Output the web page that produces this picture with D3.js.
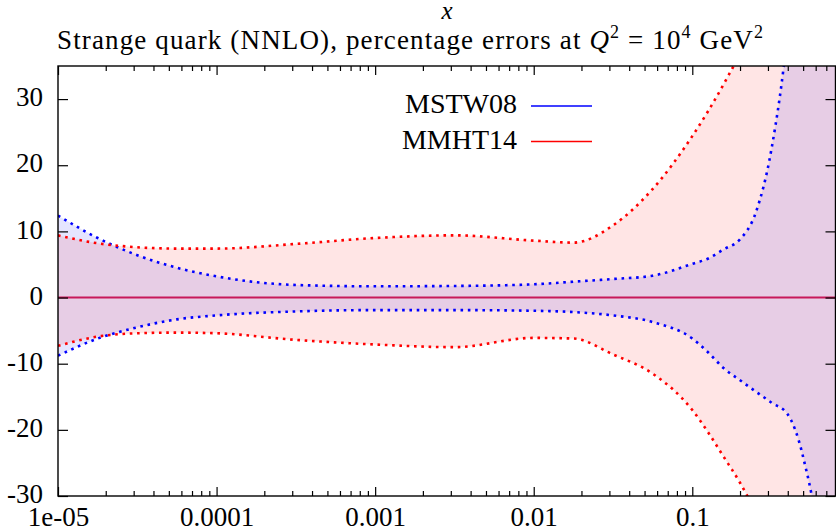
<!DOCTYPE html>
<html>
<head>
<meta charset="utf-8">
<script src="https://cdn.jsdelivr.net/npm/d3@7"></script>
<style>
  body { margin: 0; background: #fff; }
  text { font-family: "Liberation Serif", "Times New Roman", serif; fill: #000; }
</style>
</head>
<body>
<script>
// x grid shared by both PDF sets
var xValues = [1e-5, 1.78e-5, 3.16e-5, 5.62e-5, 1e-4, 3.16e-4, 1e-3, 3.16e-3,
               0.01, 0.0178, 0.0316, 0.0562, 0.1, 0.126, 0.158, 0.2,
               0.251, 0.316, 0.398, 0.501, 0.631, 0.794];

// MSTW08 percentage error band
var mstwUp   = [12.4, 9.0, 6.4, 4.5, 3.2, 1.9, 1.7, 1.75, 2.0, 2.4, 2.8, 3.3,
                5.1, 5.9, 7.3, 8.8, 12.8, 22.5, 40, 70, 110, 160];
var mstwDown = [-8.8, -6.2, -4.5, -3.3, -2.7, -2.1, -1.9, -1.9, -2.0, -2.2, -2.7, -3.7,
                -6.2, -8.3, -10.7, -12.5, -14.2, -15.9, -17.6, -24.2, -38, -70];

// MMHT14 percentage error band
var mmhtUp   = [9.4, 8.2, 7.6, 7.4, 7.4, 8.1, 9.0, 9.4, 8.6, 8.3, 10.9, 16.4,
                24.4, 28.2, 32.3, 37, 43, 50, 58, 68, 80, 95];
var mmhtDown = [-7.3, -5.9, -5.4, -5.3, -5.4, -6.4, -7.1, -7.5, -6.1, -6.2, -8.6, -11.5,
                -17.0, -20.4, -24.1, -28, -32.5, -38, -45, -53, -62, -72];

var xTicksMajor = [1e-5, 1e-4, 1e-3, 1e-2, 1e-1];
var xTickLabels = ["1e-05", "0.0001", "0.001", "0.01", "0.1"];
var yTicks = [-30, -20, -10, 0, 10, 20, 30];

var sets = [
  { name: "MSTW08", up: mstwUp, down: mstwDown, color: "#0000ff", fill: "rgba(0,0,255,0.1)" },
  { name: "MMHT14", up: mmhtUp, down: mmhtDown, color: "#ff0000", fill: "rgba(255,0,0,0.1)" }
];

// plot frame
var pLeft = 58, pRight = 835.5, pTop = 66, pBottom = 496;

var canvas = d3.select("body")
               .append("svg")
               .attr("width", 836)
               .attr("height", 531);

var x = d3.scaleLog().domain([1e-5, 0.8]).range([pLeft, pRight]);
var y = d3.scaleLinear().domain([-30, 35]).range([pBottom, pTop]);

canvas.append("clipPath")
      .attr("id", "plotclip")
      .append("rect")
      .attr("x", pLeft).attr("y", pTop)
      .attr("width", pRight - pLeft).attr("height", pBottom - pTop);

var plot = canvas.append("g").attr("clip-path", "url(#plotclip)");

var band = d3.area()
             .x(function(d) { return x(d.x); })
             .y0(function(d) { return y(d.lo); })
             .y1(function(d) { return y(d.hi); })
             .curve(d3.curveMonotoneX);

var edge = d3.line()
             .x(function(d) { return x(d.x); })
             .y(function(d) { return y(d.v); })
             .curve(d3.curveMonotoneX);

// shaded bands first, edges drawn over them
sets.forEach(function(s) {
  var pts = xValues.map(function(xv, i) { return { x: xv, lo: s.down[i], hi: s.up[i] }; });
  plot.append("path")
      .attr("d", band(pts))
      .attr("fill", s.fill);
});

sets.forEach(function(s) {
  [s.up, s.down].forEach(function(vals) {
    plot.append("path")
        .attr("d", edge(xValues.map(function(xv, i) { return { x: xv, v: vals[i] }; })))
        .attr("fill", "none")
        .attr("stroke", s.color)
        .attr("stroke-width", 2.6)
        .attr("stroke-dasharray", "2.6,4.7");
  });
});

// central values (both zero) overlap into one line
plot.append("line")
    .attr("x1", pLeft).attr("x2", pRight)
    .attr("y1", y(0)).attr("y2", y(0))
    .attr("stroke", "#c8185a")
    .attr("stroke-width", 2);

// axes, ticks pointing inward on all four sides
var minorTicks = x.ticks().filter(function(t) {
  return xTicksMajor.indexOf(t) < 0 && t < 0.8;
});

function styleAxis(g) {
  g.select(".domain").remove();
  g.selectAll("line").attr("stroke", "#000").attr("stroke-width", 1.2);
  g.selectAll("text").attr("font-size", 27).attr("font-family", "Liberation Serif");
}

canvas.append("g")
      .attr("transform", "translate(0," + pBottom + ")")
      .call(d3.axisBottom(x).tickValues(minorTicks).tickSize(-5).tickFormat(""))
      .call(styleAxis);

canvas.append("g")
      .attr("transform", "translate(0," + pBottom + ")")
      .call(d3.axisBottom(x).tickValues(xTicksMajor).tickSize(-9).tickPadding(11)
              .tickFormat(function(d, i) { return xTickLabels[i]; }))
      .call(styleAxis);

canvas.append("g")
      .attr("transform", "translate(0," + pTop + ")")
      .call(d3.axisTop(x).tickValues(minorTicks).tickSize(-5).tickFormat(""))
      .call(styleAxis);

canvas.append("g")
      .attr("transform", "translate(0," + pTop + ")")
      .call(d3.axisTop(x).tickValues(xTicksMajor).tickSize(-9).tickFormat(""))
      .call(styleAxis);

canvas.append("g")
      .attr("transform", "translate(" + pLeft + ",0)")
      .call(d3.axisLeft(y).tickValues(yTicks).tickSize(-10).tickPadding(15)
              .tickFormat(function(d) { return String(d).replace("\u2212", "-"); }))
      .call(styleAxis)
      .selectAll("text").attr("dy", "0.25em");

canvas.append("g")
      .attr("transform", "translate(" + pRight + ",0)")
      .call(d3.axisRight(y).tickValues(yTicks).tickSize(-10).tickFormat(""))
      .call(styleAxis);

canvas.append("rect")
      .attr("x", pLeft).attr("y", pTop)
      .attr("width", pRight - pLeft).attr("height", pBottom - pTop)
      .attr("fill", "none")
      .attr("stroke", "#000")
      .attr("stroke-width", 1.4);

// legend
var legend = canvas.append("g");
sets.forEach(function(s, i) {
  var ly = 106 + i * 35.5;
  legend.append("text")
        .attr("x", 517).attr("y", ly + 7)
        .attr("text-anchor", "end")
        .attr("font-size", 28)
        .text(s.name);
  legend.append("line")
        .attr("x1", 531).attr("x2", 592)
        .attr("y1", ly).attr("y2", ly)
        .attr("stroke", s.color)
        .attr("stroke-width", 1.5);
});

// axis label and title
canvas.append("text")
      .attr("x", 447).attr("y", 19)
      .attr("text-anchor", "middle")
      .attr("font-size", 25)
      .attr("font-style", "italic")
      .text("x");

var title = canvas.append("text")
                  .attr("x", 57).attr("y", 49)
                  .attr("font-size", 27)
                  .attr("textLength", 706)
                  .attr("lengthAdjust", "spacing");
title.append("tspan").text("Strange quark (NNLO), percentage errors at ");
title.append("tspan").attr("font-style", "italic").text("Q");
title.append("tspan").attr("font-size", 18).attr("dy", -11).text("2");
title.append("tspan").attr("dy", 11).text(" = 10");
title.append("tspan").attr("font-size", 18).attr("dy", -11).text("4");
title.append("tspan").attr("dy", 11).text(" GeV");
title.append("tspan").attr("font-size", 18).attr("dy", -11).text("2");
</script>
</body>
</html>
